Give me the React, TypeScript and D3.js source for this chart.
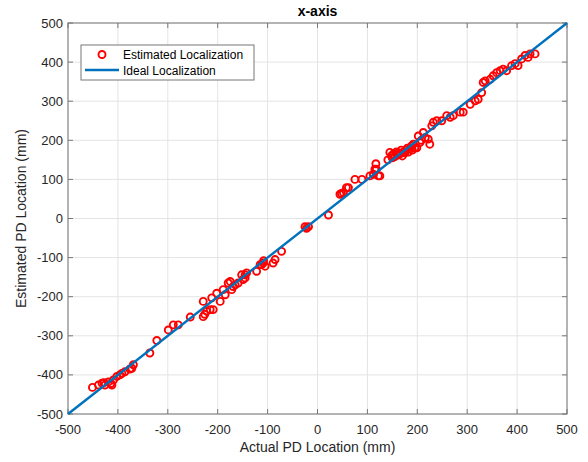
import React from "react";
import * as d3 from "d3";

const actualX: number[] = [
  -451, -439, -432, -428, -426, -419, -414, -412, -409, -402, -396, -392, -386, -376, -372, -369,
  -336, -322, -299, -289, -279, -255, -229, -226, -229, -222, -215, -209, -212, -202, -195, -189,
  -185, -179, -175, -172, -169, -165, -159, -152, -149, -145, -142, -145, -122, -115, -112, -109,
  -105, -108, -89, -85, -72, -25, -22, -18, 22, 45, 48, 52, 58, 62, 75, 89, 105, 112, 115, 118,
  117, 122, 125, 141, 145, 148, 150, 152, 155, 158, 160, 162, 165, 168, 170, 172, 175, 178, 180,
  182, 185, 188, 190, 192, 195, 199, 202, 205, 208, 212, 216, 222, 225, 229, 232, 239, 249, 259,
  266, 272, 286, 292, 306, 316, 322, 329, 332, 336, 346, 352, 359, 366, 372, 379, 389, 396, 402,
  409, 416, 422, 426, 436,
];
const estimatedY: number[] = [
  -432, -426, -421, -420, -426, -418, -422, -426, -413, -404, -400, -396, -392, -385, -383, -374,
  -344, -312, -285, -272, -272, -252, -251, -245, -212, -237, -233, -233, -203, -191, -212, -182,
  -195, -165, -161, -182, -174, -170, -165, -144, -156, -152, -139, -144, -135, -118, -118, -114,
  -122, -108, -114, -105, -84, -21, -25, -21, 9, 62, 64, 66, 79, 79, 100, 100, 109, 113, 126, 126,
  140, 109, 109, 150, 169, 160, 155, 165, 158, 170, 162, 168, 165, 175, 160, 170, 168, 175, 180,
  170, 178, 185, 175, 190, 180, 181, 211, 194, 200, 220, 207, 203, 190, 237, 246, 250, 250, 263,
  259, 263, 272, 272, 292, 301, 305, 322, 348, 352, 356, 365, 373, 378, 382, 378, 391, 396, 391,
  408, 417, 412, 421, 421,
];
const ticks: number[] = [-500, -400, -300, -200, -100, 0, 100, 200, 300, 400, 500];
const idealLine: number[] = [-500, 500];

const W = 588;
const H = 462;
const left = 68;
const right = 567;
const top = 23;
const bottom = 414;
const font = "'Liberation Sans', Arial, Helvetica, sans-serif";

export default function App() {
  const x = d3.scaleLinear().domain([-500, 500]).range([left, right]);
  const y = d3.scaleLinear().domain([-500, 500]).range([bottom, top]);
  const line = d3
    .line<number>()
    .x((d) => x(d))
    .y((d) => y(d));
  const pts = actualX.map((v, i) => [v, estimatedY[i]]);
  return (
    <svg width={W} height={H} style={{ position: "absolute", left: 0, top: 0, background: "#fff" }}>
      <rect x={0} y={0} width={W} height={H} fill="#fff" />
      {ticks.map((t) => (
        <g key={"g" + t}>
          <line x1={x(t)} x2={x(t)} y1={top} y2={bottom} stroke="#e4e4e4" strokeWidth={1} />
          <line x1={left} x2={right} y1={y(t)} y2={y(t)} stroke="#e4e4e4" strokeWidth={1} />
        </g>
      ))}
      {ticks.map((t) => (
        <g key={"t" + t}>
          <line x1={x(t)} x2={x(t)} y1={bottom} y2={bottom - 5} stroke="#777" />
          <line x1={x(t)} x2={x(t)} y1={top} y2={top + 5} stroke="#777" />
          <line x1={left} x2={left + 5} y1={y(t)} y2={y(t)} stroke="#777" />
          <line x1={right} x2={right - 5} y1={y(t)} y2={y(t)} stroke="#777" />
          <text x={x(t)} y={bottom + 20} textAnchor="middle" fontSize={13} fontFamily={font} fill="#262626">
            {t}
          </text>
          <text x={left - 5} y={y(t) + 4.5} textAnchor="end" fontSize={13} fontFamily={font} fill="#262626">
            {t}
          </text>
        </g>
      ))}
      <rect x={left} y={top} width={right - left} height={bottom - top} fill="none" stroke="#777" strokeWidth={1} />
      {pts.map((p, i) => (
        <circle key={i} cx={x(p[0])} cy={y(p[1])} r={3.5} fill="none" stroke="#ff0000" strokeWidth={1.9} />
      ))}
      <path d={line(idealLine) || ""} fill="none" stroke="#0072BD" strokeWidth={2.4} />
      <text x={(left + right) / 2} y={16} textAnchor="middle" fontSize={14} fontWeight="bold" fontFamily={font} fill="#000">
        x-axis
      </text>
      <text x={(left + right) / 2} y={452} textAnchor="middle" fontSize={14} fontFamily={font} fill="#262626">
        Actual PD Location (mm)
      </text>
      <text
        transform={`translate(26, ${(top + bottom) / 2}) rotate(-90)`}
        textAnchor="middle"
        fontSize={14}
        fontFamily={font}
        fill="#262626"
      >
        Estimated PD Location (mm)
      </text>
      <g>
        <rect x={81} y={45} width={173} height={35} fill="#fff" stroke="#777" strokeWidth={1} />
        <circle cx={102} cy={54.5} r={3.5} fill="none" stroke="#ff0000" strokeWidth={1.9} />
        <line x1={85} x2={119} y1={70} y2={70} stroke="#0072BD" strokeWidth={2.4} />
        <text x={123} y={59} fontSize={12} fontFamily={font} fill="#000">
          Estimated Localization
        </text>
        <text x={123} y={75} fontSize={12} fontFamily={font} fill="#000">
          Ideal Localization
        </text>
      </g>
    </svg>
  );
}
